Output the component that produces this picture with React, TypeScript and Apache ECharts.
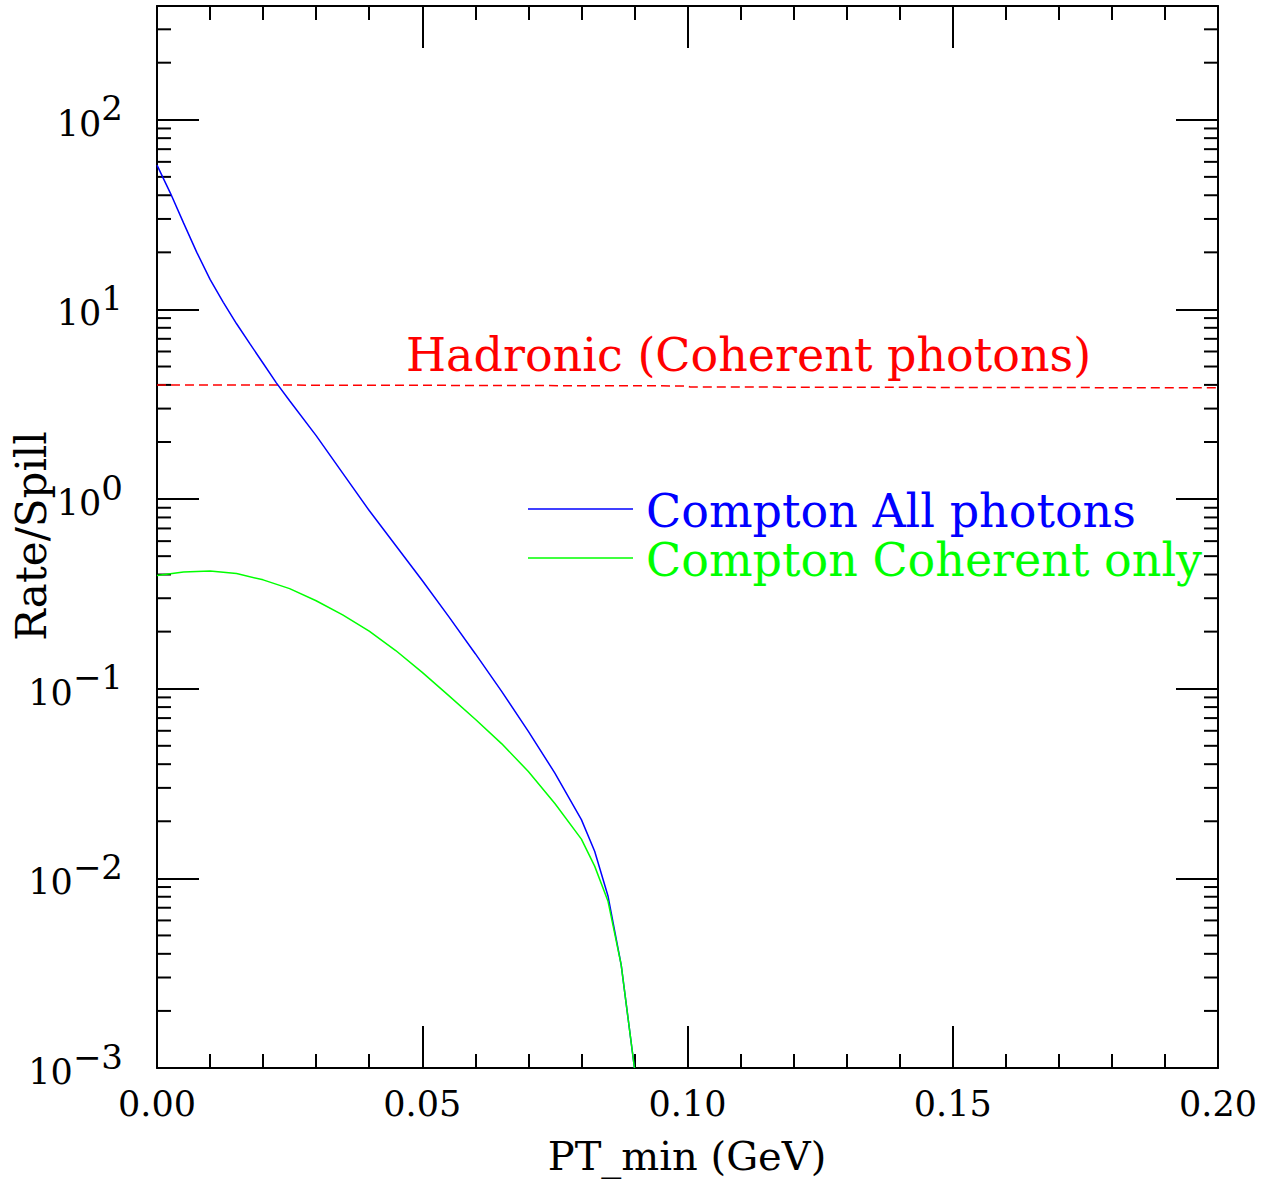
import React, { useEffect, useRef } from 'react';
import * as echarts from 'echarts';

// ---- data ----
const allX = [0, 0.0025, 0.005, 0.0075, 0.01, 0.0125, 0.015, 0.0175, 0.02, 0.0225, 0.025, 0.03, 0.035, 0.04, 0.045, 0.05, 0.055, 0.06, 0.065, 0.07, 0.075, 0.08, 0.0825, 0.085, 0.0875, 0.09];
const comptonAll = [57.7, 41.2, 28.6, 20.0, 14.4, 10.9, 8.4, 6.6, 5.2, 4.1, 3.3, 2.16, 1.37, 0.87, 0.569, 0.372, 0.24, 0.153, 0.0966, 0.0596, 0.0359, 0.0204, 0.0139, 0.0081, 0.0035, 0.001];

const cohX = [0, 0.005, 0.01, 0.015, 0.02, 0.025, 0.03, 0.035, 0.04, 0.045, 0.05, 0.055, 0.06, 0.065, 0.07, 0.075, 0.08, 0.0825, 0.085, 0.0875, 0.09];
const comptonCoherent = [0.395, 0.412, 0.417, 0.405, 0.375, 0.337, 0.291, 0.245, 0.201, 0.159, 0.122, 0.092, 0.069, 0.0512, 0.0366, 0.0248, 0.0161, 0.0116, 0.0076, 0.0035, 0.001];

const hadX = [0, 0.05, 0.1, 0.1005, 0.15, 0.2];
const hadronic = [4.0, 3.98, 3.95, 3.9, 3.88, 3.86];

const xMin = 0;
const xMax = 0.2;
const xInterval = 0.05;
const yMin = 1e-3;
const yMax = Math.pow(10, 2.6);
const minorMantissas = [2, 3, 4, 5, 6, 7, 8, 9];
const decadeExponents = [-3, -2, -1, 0, 1, 2];

const seriesNames = ['Compton All photons', 'Compton Coherent only', 'Hadronic (Coherent photons)'];
const xTitle = 'PT_min (GeV)';
const yTitle = 'Rate/Spill';

const FONT = 'DejaVu Serif';

export default function App() {
  const ref = useRef<HTMLDivElement>(null);
  useEffect(() => {
    document.body.style.margin = '0';
    const chart = echarts.init(ref.current!, null, { renderer: 'svg' });

    const minorY: number[][] = [];
    decadeExponents.forEach((e) => {
      minorMantissas.forEach((m) => {
        const v = m * Math.pow(10, e);
        if (v < yMax) minorY.push([0, v]);
      });
    });

    const pair = (xs: number[], ys: number[]) => xs.map((x, i) => [x, ys[i]]);

    const yLabelFormatter = (v: number) => {
      const l = Math.log10(v);
      const e = Math.round(l);
      if (Math.abs(l - e) > 1e-6) return '';
      const es = e < 0 ? '\u2212' + -e : String(e);
      return `{b|10}{s|${es}}`;
    };

    const tickStyle = { color: '#000', width: 2 };
    const axisLineStyle = { color: '#000', width: 2 };

    const option: any = {
      animation: false,
      backgroundColor: '#fff',
      grid: { left: 157, right: 55, top: 6, bottom: 114, containLabel: false },
      xAxis: [
        {
          type: 'value', min: xMin, max: xMax, interval: xInterval, position: 'bottom',
          axisLine: { show: true, onZero: false, lineStyle: axisLineStyle },
          axisTick: { show: true, inside: true, length: 42, lineStyle: tickStyle },
          minorTick: { show: true, splitNumber: 5, length: 14, lineStyle: tickStyle },
          splitLine: { show: false },
          axisLabel: {
            show: true, margin: 18, fontFamily: FONT, fontSize: 35, color: '#000',
            showMinLabel: true, showMaxLabel: true,
            formatter: (v: number) => v.toFixed(2),
          },
        },
        {
          type: 'value', min: xMin, max: xMax, interval: xInterval, position: 'top',
          axisLine: { show: true, onZero: false, lineStyle: axisLineStyle },
          axisTick: { show: true, inside: true, length: 42, lineStyle: tickStyle },
          minorTick: { show: true, splitNumber: 5, length: 14, lineStyle: tickStyle },
          splitLine: { show: false },
          axisLabel: { show: false },
        },
      ],
      yAxis: [
        {
          type: 'log', logBase: 10, min: yMin, max: yMax, position: 'left',
          axisLine: { show: true, onZero: false, lineStyle: axisLineStyle },
          axisTick: { show: true, inside: true, length: 42, lineStyle: tickStyle },
          minorTick: { show: false },
          splitLine: { show: false },
          axisLabel: {
            show: true, margin: 34, formatter: yLabelFormatter,
            showMinLabel: true, showMaxLabel: true,
            padding: [0, 0, 7, 0],
            rich: {
              b: { fontFamily: FONT, fontSize: 35, height: 35, lineHeight: 50, verticalAlign: 'bottom', color: '#000' },
              s: { fontFamily: FONT, fontSize: 34, height: 34, lineHeight: 50, verticalAlign: 'top', color: '#000' },
            },
          },
        },
        {
          type: 'log', logBase: 10, min: yMin, max: yMax, position: 'right',
          axisLine: { show: true, onZero: false, lineStyle: axisLineStyle },
          axisTick: { show: true, inside: true, length: 42, lineStyle: tickStyle },
          minorTick: { show: false },
          splitLine: { show: false },
          axisLabel: { show: false },
        },
      ],
      series: [
        {
          type: 'custom', name: 'minorTicks', silent: true, clip: false,
          xAxisIndex: 0, yAxisIndex: 0,
          encode: { x: 0, y: 1 },
          data: minorY,
          renderItem: (params: any, api: any) => {
            const v = api.value(1);
            const p0 = api.coord([xMin, v]);
            const p1 = api.coord([xMax, v]);
            return {
              type: 'group',
              children: [
                { type: 'line', shape: { x1: p0[0], y1: p0[1], x2: p0[0] + 14, y2: p0[1] }, style: { stroke: '#000', lineWidth: 2 } },
                { type: 'line', shape: { x1: p1[0] - 14, y1: p1[1], x2: p1[0], y2: p1[1] }, style: { stroke: '#000', lineWidth: 2 } },
              ],
            };
          },
        },
        {
          type: 'line', name: seriesNames[2], data: pair(hadX, hadronic),
          showSymbol: false, symbol: 'none', clip: true,
          lineStyle: { color: '#ff0000', width: 1.5, type: [9, 5] },
        },
        {
          type: 'line', name: seriesNames[0], data: pair(allX, comptonAll),
          showSymbol: false, symbol: 'none', clip: true,
          lineStyle: { color: '#0000ff', width: 1.5 },
        },
        {
          type: 'line', name: seriesNames[1], data: pair(cohX, comptonCoherent),
          showSymbol: false, symbol: 'none', clip: true,
          lineStyle: { color: '#00ff00', width: 1.5 },
        },
      ],
      graphic: [
        { type: 'line', shape: { x1: 528, y1: 509, x2: 633, y2: 509 }, style: { stroke: '#0000ff', lineWidth: 1.5 } },
        { type: 'line', shape: { x1: 528, y1: 558, x2: 633, y2: 558 }, style: { stroke: '#00ff00', lineWidth: 1.5 } },
        { type: 'text', x: 646, y: 511, style: { text: seriesNames[0], fill: '#0000ff', font: `46px "${FONT}"`, textAlign: 'left', textVerticalAlign: 'middle' } },
        { type: 'text', x: 646, y: 560, style: { text: seriesNames[1], fill: '#00ff00', font: `46px "${FONT}"`, textAlign: 'left', textVerticalAlign: 'middle' } },
        { type: 'text', x: 406, y: 355, style: { text: seriesNames[2], fill: '#ff0000', font: `46px "${FONT}"`, textAlign: 'left', textVerticalAlign: 'middle' } },
        { type: 'text', x: 687, y: 1156, style: { text: xTitle, fill: '#000', font: `40px "${FONT}"`, textAlign: 'center', textVerticalAlign: 'middle' } },
        { type: 'text', x: 31, y: 536, rotation: Math.PI / 2, style: { text: yTitle, fill: '#000', font: `42px "${FONT}"`, textAlign: 'center', textVerticalAlign: 'middle' } },
      ],
    };

    chart.setOption(option);
    return () => chart.dispose();
  }, []);
  return <div ref={ref} style={{ width: 1273, height: 1182 }} />;
}
